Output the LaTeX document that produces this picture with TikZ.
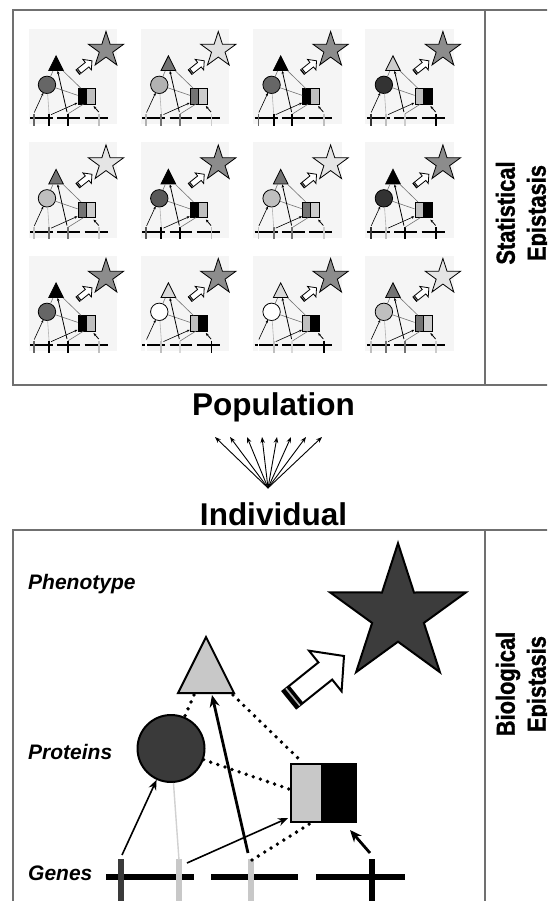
\documentclass[tikz,border=0pt]{standalone}
\usepackage{fontspec}
\setmainfont{Liberation Sans}
\newfontfamily\sidefont[FakeStretch=0.84, FakeBold=1.2]{Liberation Sans Bold}
\usetikzlibrary{arrows.meta}
\definecolor{framec}{HTML}{707070}
\newcommand\diagram[1]{%
  % star
  \draw[shp, fill=cS] (398,614.5) +(-90:71.3) -- +(-54:27.2) -- +(-18:71.3) -- +(18:27.2) -- +(54:71.3) -- +(90:27.2) -- +(126:71.3) -- +(162:27.2) -- +(198:71.3) -- +(234:27.2) -- cycle;
  % hollow arrow
  \draw[shp, fill=white] (344,656) -- (341.6,691.3) -- (332.2,679.6) -- (296.3,708.3) -- (282.5,691.2) -- (318.4,662.4) -- (309.0,650.7) -- cycle;
  \fill[black] (296.3,708.3) -- (282.5,691.2) -- (289.5,685.6) -- (303.3,702.7) -- cycle;
  \draw[stripe] (299.8,705.5) -- (286.0,688.4);
  % triangle
  \draw[shp, fill=cT] (206,637) -- (234,693) -- (178,693) -- cycle;
  % circle
  \node[shp, circle, fill=cC, minimum size=67pt, inner sep=0pt, transform shape] (#1C) at (171,748.5) {};
  % square
  \fill[cL] (291,764) rectangle (322,822);
  \fill[cR] (322,764) rectangle (356,822);
  \draw[shp] (291,764) rectangle (356,822);
  \draw[shp] (322,764) -- (322,822);
  % genes
  \draw[gn] (106,877) -- (194,877);
  \draw[gn] (211,877) -- (298,877);
  \draw[gn] (316,877) -- (405,877);
  \draw[tk, draw=cC] (121,859) -- (121,905);
  \draw[tk, draw=cL] (179,859) -- (179,905);
  \draw[tk, draw=cT] (251,859) -- (251,905);
  \draw[tk, draw=cR] (372,859) -- (372,905);
  % connector ends
  \coordinate (#1g1) at (122,855);
  \coordinate (#1g2b) at (179,860);
  \coordinate (#1g2) at (187,863);
  \coordinate (#1g3) at (248,853);
  \coordinate (#1g3d) at (252,860);
  \coordinate (#1g4) at (370,853);
  \coordinate (#1tl) at (194,695);
  \coordinate (#1tr) at (233,695);
  \coordinate (#1ta) at (212,695);
  \coordinate (#1qa) at (288,818);
  \coordinate (#1qb) at (350,830);
  \coordinate (#1qt) at (302,762);
  \coordinate (#1ql) at (289,789);
  \coordinate (#1qd) at (311,823);
  % connectors
  \draw[gl] (#1g2b) -- (#1C);
  \draw[dt] (#1tl) -- (#1C);
  \draw[dt] (#1tr) -- (#1qt);
  \draw[dt] (#1C) -- (#1ql);
  \draw[dt] (#1g3d) -- (#1qd);
  \draw[cn] (#1g1) -- (#1C);
  \draw[cn] (#1g2) -- (#1qa);
  \draw[cnt] (#1g3) -- (#1ta);
  \draw[cnt] (#1g4) -- (#1qb);
}
\tikzset{
  frame/.style={draw=framec, line width=1.8pt},
  lab/.style={font=\bfseries\fontsize{31.5}{36}\selectfont, inner sep=0pt},
  plab/.style={font=\bfseries\itshape\fontsize{21}{25}\selectfont, inner sep=0pt, anchor=base west},
  side/.style={font=\sidefont\fontsize{26}{31}\selectfont, align=center, inner sep=0pt, rotate=90},
  fanarr/.style={line width=0.9pt, -{Stealth[length=6pt,width=4.5pt]}},
  bigset/.style={
    shp/.style={draw=black, line width=2pt, line join=miter},
    stripe/.style={draw=gray!60, line width=1.6pt},
    cn/.style={line width=1.6pt, -{Stealth[length=10pt,width=8pt]}},
    cnt/.style={line width=2.8pt, -{Stealth[length=12pt,width=10pt]}},
    gl/.style={draw=black!18, line width=1.4pt},
    dt/.style={line width=3.8pt, dash pattern=on 0pt off 7.5pt, line cap=round},
    gn/.style={line width=5.5pt},
    tk/.style={line width=6.5pt}},
  tileset/.style={
    shp/.style={draw=black, line width=0.8pt, line join=miter},
    stripe/.style={draw=gray!60, line width=0.4pt},
    cn/.style={line width=0.6pt, -{Stealth[length=3pt,width=2.4pt]}},
    cnt/.style={line width=0.8pt, -{Stealth[length=3pt,width=2.6pt]}},
    gl/.style={draw=black!30, line width=0.6pt},
    dt/.style={draw=black!55, line width=0.6pt},
    gn/.style={line width=1.6pt},
    tk/.style={line width=1.8pt}}
}
\begin{document}
\begin{tikzpicture}[x=1pt,y=-1pt]
\useasboundingbox (0,0) rectangle (547,901);
\clip (0,0) rectangle (547,901);
\fill[white] (0,0) rectangle (547,901);
% frames
\draw[frame] (560,10) -- (13,10) -- (13,385) -- (560,385);
\draw[frame] (485,10) -- (485,385);
\draw[frame] (560,530) -- (13,530) -- (13,910);
\draw[frame] (485,530) -- (485,910);
% tiles
\foreach \i/\j/\s/\t/\c/\l/\r in {
  0/0/black!45/black/black!60/black/black!25,
  0/1/black!12/black!55/black!30/black!55/black!20,
  0/2/black!45/black/black!60/black/black!25,
  0/3/black!45/black!20/black!80/black!25/black,
  1/0/black!10/black!55/black!25/black!55/black!20,
  1/1/black!45/black/black!65/black/black!25,
  1/2/black!10/black!55/black!25/black!55/black!20,
  1/3/black!45/black/black!80/black!25/black,
  2/0/black!45/black/black!60/black/black!25,
  2/1/black!45/black!15/white/black!25/black,
  2/2/black!45/black!15/white/black!25/black,
  2/3/black!10/black!55/black!25/black!55/black!20}{
  \colorlet{cS}{\s}\colorlet{cT}{\t}\colorlet{cC}{\c}\colorlet{cL}{\l}\colorlet{cR}{\r}
  \begin{scope}[tileset, shift={(106+112.3*\j,50+113.5*\i)}, scale=0.26, shift={(-398,-614.5)}]
    \fill[black!4] (100,532) rectangle (440,900);
    \diagram{t\i\j}
  \end{scope}
}
% population / individual
\node[lab, anchor=base] (pop) at (273.5,415) {Population};
\node[lab, anchor=base] (ind) at (273.5,525) {Individual};
\coordinate (fan) at (268,488);
\foreach \x [count=\k] in {215,230,247,262,277,291,306,322}{
  \coordinate (f\k) at (\x,437);
  \draw[fanarr] (fan) -- (f\k);
}
% side labels
\node[side] (stat) at (523.5,213) {Statistical\\Epistasis};
\node[side] (bio) at (523.5,684) {Biological\\Epistasis};
% big diagram
\definecolor{cS}{HTML}{3C3C3C}
\definecolor{cT}{HTML}{C8C8C8}
\definecolor{cC}{HTML}{3A3A3A}
\definecolor{cL}{HTML}{C8C8C8}
\definecolor{cR}{HTML}{000000}
\begin{scope}[bigset]
  \diagram{b}
\end{scope}
\node[plab] (phen) at (28,589) {Phenotype};
\node[plab] (prot) at (28,759) {Proteins};
\node[plab] (gen) at (28,880) {Genes};
\end{tikzpicture}
\end{document}
